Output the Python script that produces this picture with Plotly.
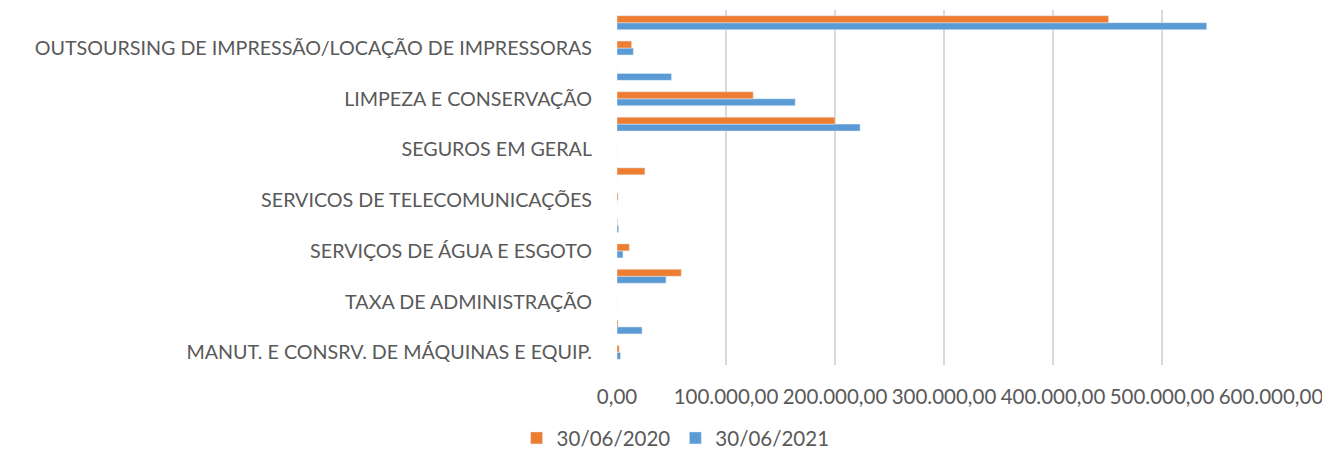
import plotly.graph_objects as go

# categories from bottom (index 0) to top (index 13); only every other is labelled in the reference
categories = [
    "MANUT. E CONSRV. DE MÁQUINAS E EQUIP.", "",
    "TAXA DE ADMINISTRAÇÃO", "",
    "SERVIÇOS DE ÁGUA E ESGOTO", "",
    "SERVICOS DE TELECOMUNICAÇÕES", "",
    "SEGUROS EM GERAL", "",
    "LIMPEZA E CONSERVAÇÃO", "",
    "OUTSOURSING DE IMPRESSÃO/LOCAÇÃO DE IMPRESSORAS", "",
]
values_2020 = [2000, 1000, 0, 59000, 11300, 500, 1000, 25600, 0, 200000, 125000, 0, 13400, 451000]
values_2021 = [3200, 23000, 0, 45000, 5500, 1500, 0, 0, 0, 223000, 163500, 50000, 15000, 541000]

x_ticks = [0, 100000, 200000, 300000, 400000, 500000, 600000]
x_tick_labels = ["0,00", "100.000,00", "200.000,00", "300.000,00", "400.000,00", "500.000,00", "600.000,00"]

positions = list(range(len(categories)))
label_pos = [p for p, c in zip(positions, categories) if c]
label_txt = [c for c in categories if c]

FONT = "Lato"
TXT = "#595959"

fig = go.Figure()
fig.add_trace(go.Bar(y=positions, x=values_2021, orientation="h", name="30/06/2021",
                     marker=dict(color="#5B9BD5")))
fig.add_trace(go.Bar(y=positions, x=values_2020, orientation="h", name="30/06/2020",
                     marker=dict(color="#ED7D31")))

# the page body adds an 8px offset, so the figure is 8px smaller than the window
fig.update_layout(
    width=1322, height=448,
    margin=dict(l=609, r=59, t=2, b=91, autoexpand=False),
    paper_bgcolor="white", plot_bgcolor="white",
    barmode="group", bargap=0.45, bargroupgap=0,
    font=dict(family=FONT, color=TXT, size=19.7),
    showlegend=True,
    legend=dict(orientation="h", xref="container", yref="container",
                x=0.505, xanchor="center", y=0.04, yanchor="middle",
                traceorder="reversed", font=dict(size=20.5, color=TXT),
                itemwidth=30),
    xaxis=dict(range=[0, 600000], tickmode="array", tickvals=x_ticks, ticktext=x_tick_labels,
               showgrid=True, gridcolor="#D9D9D9", gridwidth=1.5, zeroline=False,
               showline=False, tickangle=0, ticklabelstandoff=17, automargin=False,
               tickfont=dict(size=20.5, color=TXT)),
    yaxis=dict(range=[-0.5, len(categories) - 0.5], tickmode="array", tickvals=label_pos,
               ticktext=label_txt, showgrid=False, zeroline=False, showline=False,
               ticklabelstandoff=24, automargin=False, tickfont=dict(size=19.7, color=TXT)),
)

fig.write_html("out.html")
